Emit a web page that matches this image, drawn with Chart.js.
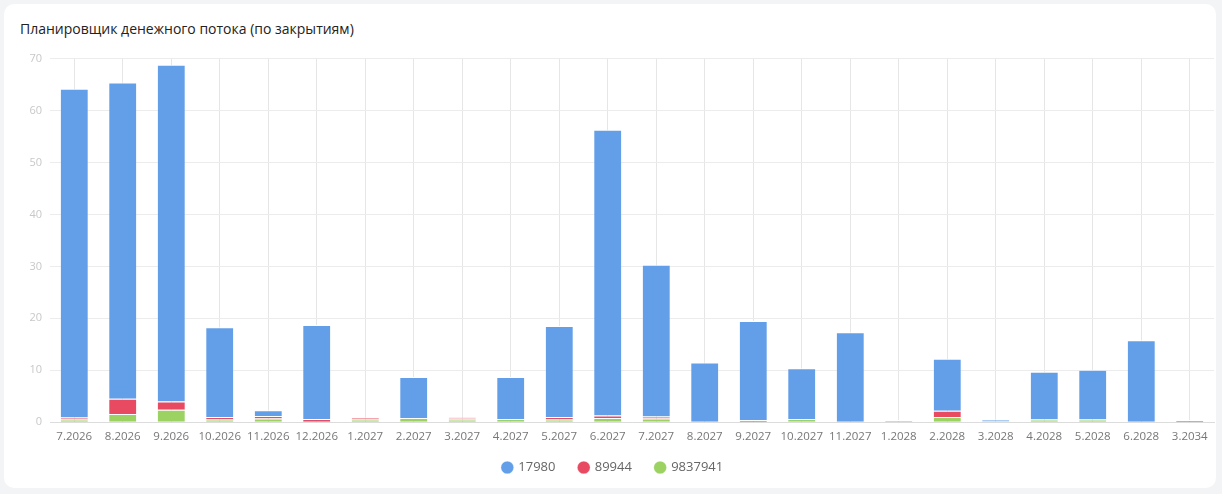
<!DOCTYPE html>
<html lang="ru">
<head>
<meta charset="utf-8">
<script src="https://cdn.jsdelivr.net/npm/chart.js@4/dist/chart.umd.min.js"></script>
<style>
  html, body { margin: 0; padding: 0; background: #f3f4f5; }
  body { width: 1222px; height: 494px; overflow: hidden; font-family: "Open Sans", "Noto Sans", sans-serif; }
  .card {
    position: absolute; left: 4px; top: 4px; width: 1212px; height: 484px;
    background: #fff; border-radius: 10px;
  }
  .title {
    position: absolute; left: 16px; top: 15px; font-size: 14px; color: #222;
  }
  .wrap { position: absolute; left: 0; top: 40px; width: 1212px; height: 444px; }
</style>
</head>
<body>
<div class="card">
  <div class="title">Планировщик денежного потока (по закрытиям)</div>
  <div class="wrap"><canvas id="cashChart"></canvas></div>
</div>
<script>
// Месяцы закрытий
const labels = ["7.2026", "8.2026", "9.2026", "10.2026", "11.2026", "12.2026", "1.2027", "2.2027",
  "3.2027", "4.2027", "5.2027", "6.2027", "7.2027", "8.2027", "9.2027", "10.2027", "11.2027",
  "1.2028", "2.2028", "3.2028", "4.2028", "5.2028", "6.2028", "3.2034"];

// Значения (оценка по картинке)
const s17980 = [63.3, 60.9, 64.8, 17.3, 1.1, 18.1, 0, 7.9, 0.1, 8.1, 17.5, 55.0, 29.2, 11.5, 19.1, 9.8, 17.3, 0, 10.0, 0.2, 9.2, 9.6, 15.8, 0];
const s89944 = [0.4, 2.9, 1.6, 0.5, 0.5, 0.6, 0.4, 0, 0.3, 0, 0.5, 0.5, 0.4, 0, 0.4, 0, 0, 0, 1.2, 0, 0, 0, 0, 0.4];
const s9837941 = [0.5, 1.6, 2.4, 0.5, 0.7, 0, 0.5, 0.8, 0.5, 0.6, 0.5, 0.8, 0.7, 0, 0, 0.6, 0, 0.4, 1.0, 0.3, 0.5, 0.5, 0, 0];

const ctx = document.getElementById("cashChart").getContext("2d");

function ds(label, data, color) {
  return {
    label: label,
    data: data,
    backgroundColor: color,
    borderColor: "#ffffff",
    borderWidth: { top: 1, left: 0, right: 0, bottom: 0 },
    borderSkipped: "bottom",
    barPercentage: 0.56,
    categoryPercentage: 1.0
  };
}

new Chart(ctx, {
  type: "bar",
  data: {
    labels: labels,
    // снизу вверх: зелёный, красный, синий
    datasets: [
      ds("9837941", s9837941, "#9bd262"),
      ds("89944", s89944, "#e84a62"),
      ds("17980", s17980, "#629fe8")
    ]
  },
  options: {
    responsive: true,
    maintainAspectRatio: false,
    animation: false,
    layout: { padding: { left: 8, right: 2, top: 13, bottom: 4 } },
    plugins: {
      legend: {
        position: "bottom",
        reverse: true,
        labels: {
          usePointStyle: true,
          pointStyle: "circle",
          boxWidth: 9,
          boxHeight: 9,
          padding: 17,
          color: "#666",
          font: { size: 13, family: "Open Sans" },
          // чуть больше места между пунктами легенды
          generateLabels: function (chart) {
            const items = Chart.defaults.plugins.legend.labels.generateLabels(chart);
            items.forEach(function (it) {
              if (it.datasetIndex > 0) it.text = it.text + "  ";
            });
            return items;
          }
        }
      },
      tooltip: { enabled: false }
    },
    scales: {
      x: {
        stacked: true,
        grid: { offset: false, color: "#e6e6e6", drawTicks: false },
        border: { color: "#dcdcdc" },
        ticks: { color: "#777", font: { size: 11.5, family: "Open Sans" }, padding: 8, maxRotation: 0, autoSkip: false },
        afterFit: function (scale) { scale.height = scale.height - 8; }
      },
      y: {
        stacked: true,
        min: 0,
        max: 70,
        grid: { color: "#ececec", drawTicks: false },
        border: { display: false },
        ticks: { stepSize: 10, color: "#c8c8c8", font: { size: 11, family: "Open Sans" }, padding: 8 },
        afterFit: function (scale) { scale.width = 38; }
      }
    }
  }
});
</script>
</body>
</html>
